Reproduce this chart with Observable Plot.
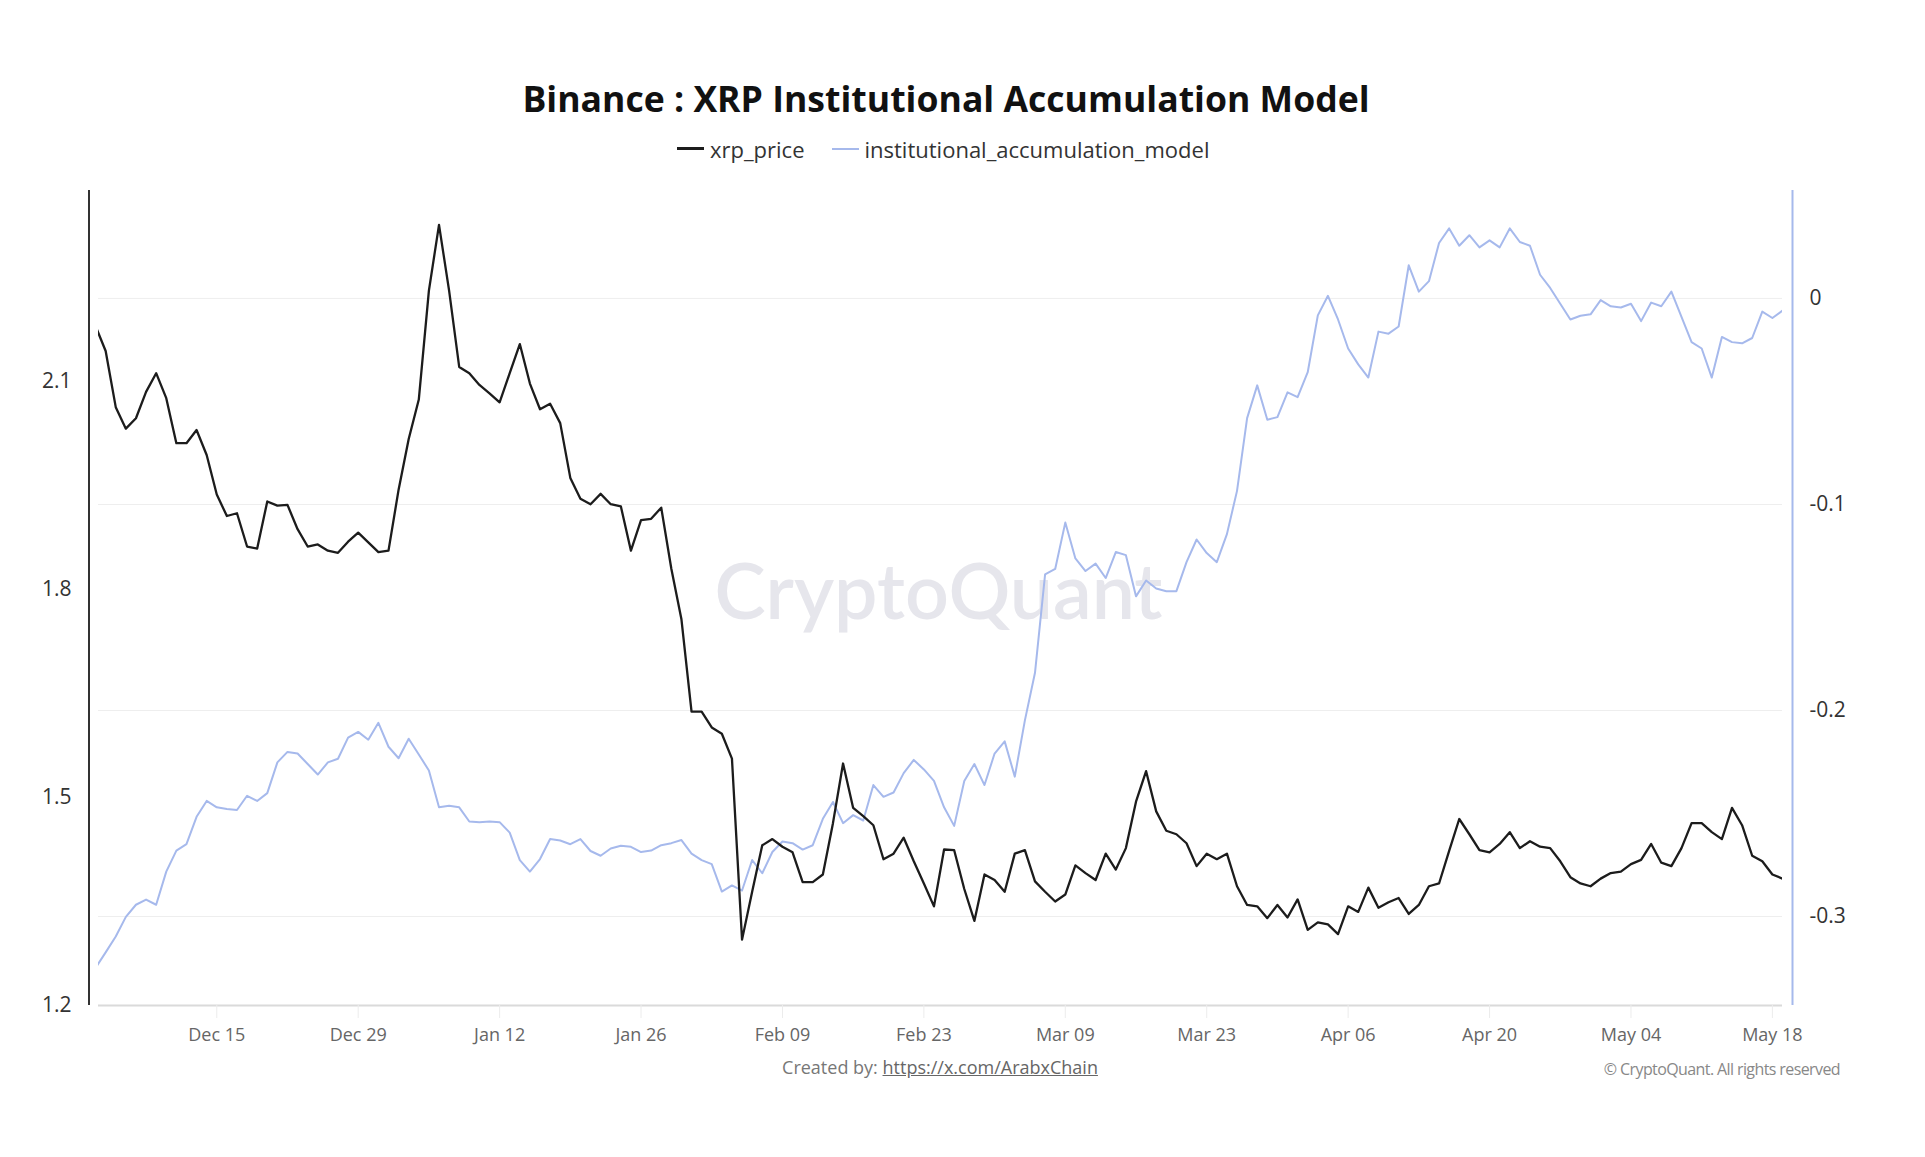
<!DOCTYPE html>
<html>
<head>
<meta charset="utf-8">
<script src="https://cdn.jsdelivr.net/npm/d3@7"></script>
<script src="https://cdn.jsdelivr.net/npm/@observablehq/plot@0.6"></script>
<style>
  html, body { margin: 0; padding: 0; background: #fff; }
  body { position: relative; width: 1925px; height: 1157px; overflow: hidden; font-family: "Open Sans", "Noto Sans", sans-serif; }
  #chart { position: absolute; left: 0; top: 0; }
  #title { position: absolute; left: 946px; top: 98px; transform: translate(-50%, -50%); font-weight: 700; font-size: 35.6px; color: #111; white-space: nowrap; }
  #legend { position: absolute; left: 677px; top: 148.5px; transform: translateY(-50%); display: flex; align-items: center; font-size: 22px; color: #333; white-space: nowrap; }
  #legend .sw { display: inline-block; width: 27px; height: 3px; margin-right: 6px; }
  #legend .item { display: flex; align-items: center; margin-right: 27px; }
  #caption { position: absolute; left: 940px; top: 1067px; transform: translate(-50%, -50%); font-size: 18px; color: #777; white-space: nowrap; }
  #caption a { color: #666; text-decoration: underline; }
  #copy { position: absolute; right: 85px; top: 1069px; transform: translateY(-50%); font-size: 16px; color: #888; letter-spacing: -0.6px; white-space: nowrap; }
</style>
</head>
<body>
<div id="chart"></div>
<div id="title"></div>
<div id="legend"></div>
<div id="caption"></div>
<div id="copy"></div>
<script>
// ---------- data ----------
const titleText = "Binance : XRP Institutional Accumulation Model";
const seriesNames = ["xrp_price", "institutional_accumulation_model"];
const seriesColors = ["#1c1c1c", "#a6b9ec"];
const startDay = "2024-12-03"; // first daily observation

// xrp_price, daily Dec 3 2024 -> May 19 2025 (left axis)
const xrpPrice = [
  // Dec
  2.18, 2.144, 2.063, 2.032, 2.047, 2.085, 2.112, 2.076, 2.011, 2.011,
  2.030, 1.994, 1.937, 1.906, 1.910, 1.862, 1.859, 1.927, 1.921, 1.922,
  1.887, 1.862, 1.865, 1.856, 1.853, 1.869, 1.882, 1.868, 1.854,
  // Jan
  1.856, 1.944, 2.017, 2.074, 2.231, 2.326, 2.231, 2.121, 2.112, 2.095,
  2.083, 2.070, 2.112, 2.154, 2.097, 2.060, 2.068, 2.040, 1.961, 1.931,
  1.923, 1.938, 1.923, 1.920, 1.856, 1.900, 1.902, 1.918, 1.830, 1.757, 1.624,
  // Feb
  1.624, 1.601, 1.592, 1.556, 1.295, 1.364, 1.431, 1.440, 1.429, 1.421,
  1.378, 1.378, 1.389, 1.463, 1.549, 1.485, 1.473, 1.460, 1.411, 1.419,
  1.442, 1.408, 1.376, 1.343, 1.425, 1.424, 1.368, 1.322,
  // Mar
  1.389, 1.381, 1.364, 1.419, 1.424, 1.379, 1.364, 1.350, 1.360, 1.402,
  1.391, 1.381, 1.419, 1.396, 1.427, 1.494, 1.538, 1.480, 1.452, 1.447,
  1.434, 1.401, 1.419, 1.411, 1.419, 1.372, 1.345, 1.343, 1.326, 1.345, 1.327,
  // Apr
  1.353, 1.309, 1.320, 1.317, 1.303, 1.343, 1.335, 1.370, 1.341, 1.349,
  1.355, 1.332, 1.345, 1.372, 1.376, 1.423, 1.469, 1.447, 1.424, 1.421,
  1.433, 1.450, 1.427, 1.437, 1.429, 1.427, 1.408, 1.385, 1.376, 1.372,
  // May
  1.383, 1.391, 1.393, 1.404, 1.410, 1.433, 1.406, 1.401, 1.427, 1.463,
  1.463, 1.450, 1.440, 1.485, 1.460, 1.416, 1.408, 1.389, 1.383
];

// institutional_accumulation_model, same days (right axis)
const accumulationModel = [
  // Dec
  -0.325, -0.3174, -0.3097, -0.3002, -0.2943, -0.2918, -0.2943, -0.2782, -0.2680, -0.2649,
  -0.2516, -0.2439, -0.2470, -0.2478, -0.2483, -0.2414, -0.2439, -0.2401, -0.2252, -0.2201,
  -0.2209, -0.2260, -0.2311, -0.2252, -0.2234, -0.2132, -0.2104, -0.2142, -0.2060,
  // Jan
  -0.2176, -0.2232, -0.2137, -0.2214, -0.2291, -0.2470, -0.2462, -0.2470, -0.2539, -0.2542,
  -0.2539, -0.2542, -0.2593, -0.2726, -0.2782, -0.2721, -0.2624, -0.2631, -0.2649, -0.2624,
  -0.2682, -0.2705, -0.2670, -0.2657, -0.2662, -0.2687, -0.2680, -0.2654, -0.2644, -0.2629, -0.2695,
  // Feb
  -0.2726, -0.2746, -0.2879, -0.2849, -0.2874, -0.2726, -0.2790, -0.2687, -0.2636, -0.2644,
  -0.2675, -0.2654, -0.2526, -0.2444, -0.2547, -0.2508, -0.2534, -0.2362, -0.2419, -0.2398,
  -0.2304, -0.2240, -0.2286, -0.2342, -0.2470, -0.2560, -0.2342, -0.2260,
  // Mar
  -0.2362, -0.2209, -0.2150, -0.2321, -0.2048, -0.1817, -0.1339, -0.1313, -0.1088, -0.1262,
  -0.1323, -0.1287, -0.1357, -0.1231, -0.1246, -0.1446, -0.1369, -0.1408, -0.1421, -0.1421,
  -0.1280, -0.1170, -0.1236, -0.1280, -0.1144, -0.0934, -0.0581, -0.0422, -0.0589, -0.0576, -0.0456,
  // Apr
  -0.0479, -0.0358, -0.0082, 0.0013, -0.0102, -0.0243, -0.0320, -0.0384, -0.0161, -0.0171,
  -0.0136, 0.0161, 0.0033, 0.0084, 0.0269, 0.0340, 0.0256, 0.0307, 0.0248, 0.0282,
  0.0248, 0.0340, 0.0274, 0.0256, 0.0115, 0.0051, -0.0026, -0.0102, -0.0084, -0.0077,
  // May
  -0.0008, -0.0038, -0.0044, -0.0026, -0.0110, -0.0020, -0.0038, 0.0033, -0.0090, -0.0212,
  -0.0243, -0.0384, -0.0187, -0.0212, -0.0218, -0.0192, -0.0064, -0.0095, -0.0059
];

const xTickDates = ["2024-12-15","2024-12-29","2025-01-12","2025-01-26","2025-02-09","2025-02-23",
                    "2025-03-09","2025-03-23","2025-04-06","2025-04-20","2025-05-04","2025-05-18"];
const xTickLabels = ["Dec 15","Dec 29","Jan 12","Jan 26","Feb 09","Feb 23",
                     "Mar 09","Mar 23","Apr 06","Apr 20","May 04","May 18"];
const leftTicks = [1.2, 1.5, 1.8, 2.1];
const leftTickLabels = ["1.2", "1.5", "1.8", "2.1"];
const rightTicks = [0, -0.1, -0.2, -0.3];
const rightTickLabels = ["0", "-0.1", "-0.2", "-0.3"];

const leftDomain = [1.2, 2.3755];
const rightDomain = [-0.3432, 0.0524];
const xDomain = [new Date("2024-12-03T07:00:00Z"), new Date("2025-05-19T00:00:00Z")];

// ---------- build ----------
const dayMs = 864e5;
const t0 = new Date(startDay + "T00:00:00Z").getTime();
const rows = xrpPrice.map((p, i) => ({ date: new Date(t0 + i * dayMs), price: p, model: accumulationModel[i] }));
// map the right-axis value into the shared (left) y scale
const toLeft = r => leftDomain[0] + (r - rightDomain[0]) / (rightDomain[1] - rightDomain[0]) * (leftDomain[1] - leftDomain[0]);
const tickDates = xTickDates.map(s => new Date(s + "T00:00:00Z"));
const pxPerUnit = (1005 - 190) / (leftDomain[1] - leftDomain[0]);

const chart = Plot.plot({
  width: 1925,
  height: 1100,
  marginLeft: 98,
  marginRight: 143,
  marginTop: 190,
  marginBottom: 95,
  x: { type: "utc", domain: xDomain, axis: null },
  y: { domain: leftDomain, axis: null },
  style: { fontFamily: "'Open Sans', 'Noto Sans', sans-serif", background: "transparent", overflow: "visible" },
  marks: [
    // grid lines (right-axis ticks)
    Plot.ruleY(rightTicks, { y: d => toLeft(d), stroke: "#eeeeee", strokeWidth: 1 }),
    // watermark
    Plot.text(["CryptoQuant"], { frameAnchor: "middle", dx: -2, dy: -4, fontSize: 77, fontWeight: 600, fill: "#e6e6ec", fontFamily: "Lato, 'Open Sans', sans-serif" }),
    // bottom axis line and tick marks
    Plot.ruleY([leftDomain[0]], { stroke: "#dadada", strokeWidth: 2 }),
    Plot.ruleX(tickDates, { y1: leftDomain[0], y2: leftDomain[0] - 13 / pxPerUnit, stroke: "#ececec", strokeWidth: 1 }),
    // x tick labels
    Plot.text(tickDates, { x: d => d, frameAnchor: "bottom", dy: 35, text: (d, i) => xTickLabels[i], fontSize: 18, fill: "#666" }),
    // left axis
    Plot.ruleX([xDomain[0]], { dx: -9.5, y1: leftDomain[0], y2: leftDomain[1], stroke: "#333", strokeWidth: 2 }),
    Plot.text(leftTicks, { y: d => d, frameAnchor: "left", dx: -27, textAnchor: "end", text: (d, i) => leftTickLabels[i], fontSize: 21, fill: "#333" }),
    // right axis
    Plot.ruleX([xDomain[1]], { dx: 10, y1: leftDomain[0], y2: leftDomain[1], stroke: seriesColors[1], strokeWidth: 2 }),
    Plot.text(rightTicks, { y: d => toLeft(d), frameAnchor: "right", dx: 27, textAnchor: "start", text: (d, i) => rightTickLabels[i], fontSize: 21, fill: "#333" }),
    // series
    Plot.line(rows, { x: "date", y: d => toLeft(d.model), stroke: seriesColors[1], strokeWidth: 2, clip: true }),
    Plot.line(rows, { x: "date", y: "price", stroke: seriesColors[0], strokeWidth: 2.3, clip: true })
  ]
});
document.getElementById("chart").appendChild(chart);

// title, legend, captions
document.getElementById("title").textContent = titleText;
const legend = document.getElementById("legend");
seriesNames.forEach((name, i) => {
  const item = document.createElement("span");
  item.className = "item";
  const sw = document.createElement("span");
  sw.className = "sw";
  sw.style.background = seriesColors[i];
  sw.style.height = i === 0 ? "3px" : "2px";
  const label = document.createElement("span");
  label.textContent = name;
  item.appendChild(sw);
  item.appendChild(label);
  legend.appendChild(item);
});
const cap = document.getElementById("caption");
cap.appendChild(document.createTextNode("Created by: "));
const a = document.createElement("a");
a.href = "https://x.com/ArabxChain";
a.textContent = "https://x.com/ArabxChain";
cap.appendChild(a);
document.getElementById("copy").textContent = "© CryptoQuant. All rights reserved";
</script>
</body>
</html>
